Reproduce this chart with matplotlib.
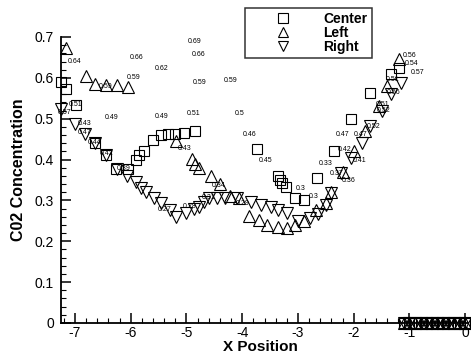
import matplotlib
matplotlib.use("Agg")
import matplotlib.pyplot as plt
from matplotlib.ticker import MultipleLocator, FormatStrFormatter

plt.rcParams['font.family'] = ['Liberation Sans', 'DejaVu Sans']
plt.rcParams['axes.unicode_minus'] = False

# Center (squares)
center_x = [-7.25, -7.16, -6.98, -6.64, -6.45, -6.27, -6.05, -5.9, -5.85, -5.76,
            -5.6, -5.45, -5.33, -5.2, -5.05, -4.85, -3.73, -3.36, -3.32, -3.29,
            -3.22, -3.05, -2.9, -2.65, -2.36, -2.04, -1.7, -1.33, -1.18,
            -1.1, -1.0, -0.9, -0.8, -0.7, -0.6, -0.5, -0.4, -0.3, -0.2, -0.1, 0.0]
center_y = [0.589, 0.573, 0.534, 0.44, 0.41, 0.378, 0.378, 0.40, 0.41, 0.42,
            0.449, 0.46, 0.463, 0.463, 0.465, 0.47, 0.427, 0.36, 0.35, 0.343,
            0.334, 0.307, 0.30, 0.356, 0.42, 0.50, 0.563, 0.61, 0.625,
            0, 0, 0, 0, 0, 0, 0, 0, 0, 0, 0, 0]

# Left (up triangles)
left_x = [-7.16, -6.8, -6.64, -6.45, -6.24, -6.05, -5.18, -4.9, -4.84, -4.78,
          -4.56, -4.4, -4.22, -4.05, -3.87, -3.69, -3.55, -3.36, -3.2, -3.05,
          -2.9, -2.67, -2.5, -2.4, -2.2, -2.0, -1.8, -1.55, -1.4, -1.18,
          -1.1, -1.0, -0.9, -0.8, -0.7, -0.6, -0.5, -0.4, -0.3, -0.2, -0.1, 0.0]
left_y = [0.673, 0.605, 0.585, 0.583, 0.583, 0.578, 0.446, 0.402, 0.39, 0.38,
          0.361, 0.34, 0.31, 0.305, 0.263, 0.251, 0.239, 0.234, 0.232, 0.24,
          0.25, 0.276, 0.293, 0.32, 0.37, 0.42, 0.47, 0.53, 0.58, 0.646,
          0, 0, 0, 0, 0, 0, 0, 0, 0, 0, 0, 0]

# Right (down triangles)
right_x = [-7.25, -7.0, -6.82, -6.64, -6.45, -6.24, -6.07, -5.9, -5.82, -5.73,
           -5.58, -5.45, -5.3, -5.18, -5.0, -4.87, -4.78, -4.69, -4.6, -4.45,
           -4.3, -4.09, -3.85, -3.67, -3.49, -3.36, -3.2, -3.0, -2.78, -2.64,
           -2.49, -2.4, -2.22, -2.04, -1.85, -1.7, -1.5, -1.33, -1.15,
           -1.1, -1.0, -0.9, -0.8, -0.7, -0.6, -0.5, -0.4, -0.3, -0.2, -0.1, 0.0]
right_y = [0.524, 0.488, 0.463, 0.44, 0.41, 0.378, 0.36, 0.344, 0.33, 0.32,
           0.307, 0.293, 0.276, 0.259, 0.27, 0.28, 0.283, 0.295, 0.307, 0.307,
           0.307, 0.307, 0.295, 0.288, 0.283, 0.276, 0.27, 0.25, 0.256, 0.268,
           0.29, 0.317, 0.366, 0.405, 0.441, 0.483, 0.52, 0.56, 0.588,
           0, 0, 0, 0, 0, 0, 0, 0, 0, 0, 0, 0]

# small value labels scattered over the plot
label_x = [-4.85, -5.9, -4.78, -5.45, -7.0, -6.45, -5.95, -4.76, -4.2, -6.98,
           -7.18, -6.35, -5.45, -4.87, -4.05, -3.87, -3.58, -6.82, -6.82, -6.64,
           -6.44, -6.12, -5.04, -4.42, -4.6, -4.0, -5.4, -4.95, -2.95, -1.0,
           -0.97, -0.86, -1.3, -1.28, -1.48, -1.46, -1.65, -2.2, -1.88, -2.17,
           -1.9, -2.3, -2.1, -2.5, -2.72]
label_y = [0.69, 0.649, 0.658, 0.624, 0.639, 0.58, 0.60, 0.588, 0.593, 0.534,
           0.515, 0.502, 0.505, 0.512, 0.512, 0.461, 0.398, 0.488, 0.466, 0.442,
           0.415, 0.378, 0.427, 0.337, 0.307, 0.292, 0.278, 0.285, 0.33, 0.654,
           0.635, 0.612, 0.595, 0.565, 0.535, 0.52, 0.482, 0.462, 0.462, 0.425,
           0.398, 0.366, 0.35, 0.39, 0.31]
label_text = ['0.69', '0.66', '0.66', '0.62', '0.64', '0.59', '0.59', '0.59', '0.59', '0.51',
              '0.57', '0.49', '0.49', '0.51', '0.5', '0.46', '0.45', '0.43', '0.47', '0.44',
              '0.42', '0.39', '0.43', '0.34', '0.31', '0.29', '0.27', '0.28', '0.3', '0.56',
              '0.54', '0.57', '0.51', '0.56', '0.51', '0.52', '0.52', '0.47', '0.47', '0.42',
              '0.41', '0.37', '0.36', '0.33', '0.3']

fig = plt.figure(figsize=(4.71, 3.53), dpi=100)
ax = fig.add_axes([61 / 471, 30 / 353, 407 / 471, 286 / 353])

kw = dict(linestyle='none', markerfacecolor='none', markeredgecolor='black',
          markeredgewidth=0.8, clip_on=False)
ax.plot(center_x, center_y, marker='s', markersize=6.5, label='Center', **kw)
ax.plot(left_x, left_y, marker='^', markersize=8, label='Left', **kw)
ax.plot(right_x, right_y, marker='v', markersize=8, label='Right', **kw)

for lx, ly, lt in zip(label_x, label_y, label_text):
    ax.text(lx, ly, lt, fontsize=5, ha='center', va='center', color='black')

ax.set_xlim(-7.25, 0.05)
ax.set_ylim(0, 0.70)

for side in ['top', 'right']:
    ax.spines[side].set_visible(False)
for side in ['left', 'bottom']:
    ax.spines[side].set_linewidth(1.3)

ax.xaxis.set_major_locator(MultipleLocator(1))
ax.xaxis.set_minor_locator(MultipleLocator(0.2))
ax.yaxis.set_major_locator(MultipleLocator(0.1))
ax.yaxis.set_minor_locator(MultipleLocator(0.02))
ax.yaxis.set_major_formatter(FormatStrFormatter('%g'))
ax.xaxis.set_major_formatter(FormatStrFormatter('%g'))
ax.tick_params(which='major', direction='in', length=7, width=1.1, labelsize=10, pad=2)
ax.tick_params(which='minor', direction='in', length=3.5, width=0.8)
ax.tick_params(axis='y', which='major', pad=5)

ax.set_xlabel('X Position', fontsize=11, fontweight='bold')
ax.set_ylabel('C02 Concentration', fontsize=11.5, fontweight='bold')
ax.xaxis.set_label_coords(0.49, -0.058)
ax.yaxis.set_label_coords(-0.085, 0.535)

leg = ax.legend(loc='upper left', bbox_to_anchor=(245 / 471, 1 - 8 / 353),
                bbox_transform=fig.transFigure, frameon=True, fancybox=False,
                borderpad=0.3, borderaxespad=0, handlelength=4.9, handletextpad=0.45,
                labelspacing=0.0, prop={'weight': 'bold', 'size': 10})
leg.get_frame().set_edgecolor('black')
leg.get_frame().set_linewidth(1.1)
for h in leg.legend_handles:
    h.set_markersize(7)

fig.savefig('out.png', dpi=100)
